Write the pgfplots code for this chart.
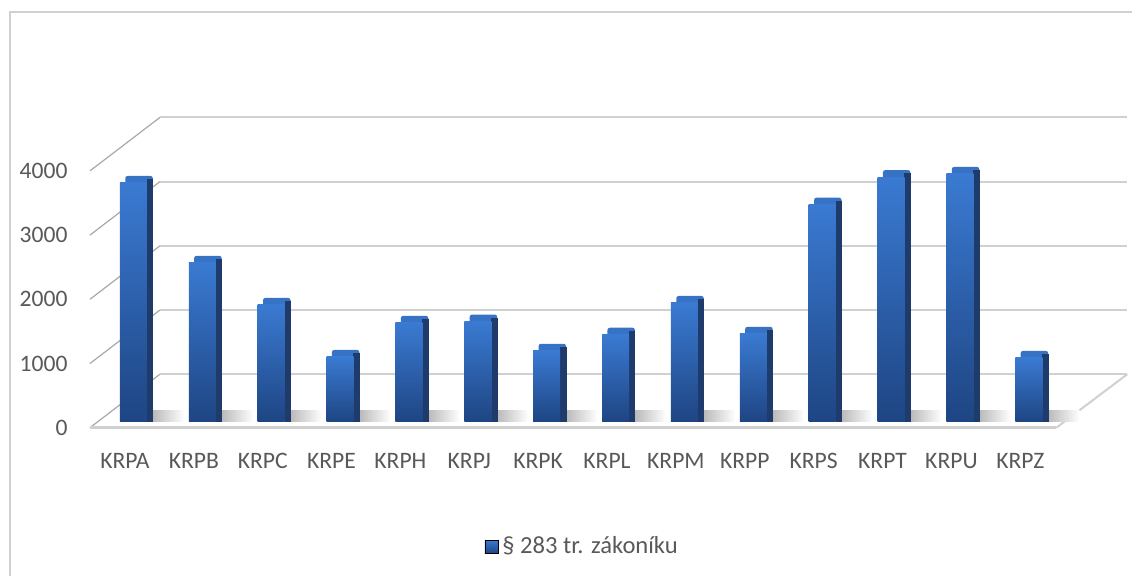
\documentclass[border=0pt]{standalone}
\usepackage{fontspec}
\setmainfont{Carlito}
\usepackage{pgfplots}
\pgfplotsset{compat=1.18}
\usepackage{pgfplotstable}
\definecolor{txt}{HTML}{595959}
\definecolor{gridc}{HTML}{D0D0D0}
\definecolor{wallc}{HTML}{A8A8A8}
\definecolor{barTop}{HTML}{3A7AD2}
\definecolor{barBot}{HTML}{1E4583}
\definecolor{barSide}{HTML}{1E3B6B}
\definecolor{barCap}{HTML}{3773C4}
\pgfplotstableread{
i v
0 3720
1 2475
2 1820
3 1010
4 1540
5 1560
6 1105
7 1355
8 1850
9 1370
10 3380
11 3810
12 3860
13 995
}\data
\begin{document}
\begin{tikzpicture}
\path (0,0) rectangle (566.5pt,288pt);
\draw[color=gridc, line width=0.75pt] (5pt,0) -- (5pt,282pt) -- (566.5pt,282pt);
\begin{axis}[
  at={(45pt,74pt)}, anchor=south west, scale only axis,
  width=519pt, height=155.43pt,
  xmin=-0.508, xmax=14.553, ymin=-93.4, ymax=4745,
  clip=false,
  axis line style={draw=none},
  major tick style={draw=none},
  /pgf/number format/assume math mode=true,
  xtick={0,...,13},
  xticklabels={KRPA,KRPB,KRPC,KRPE,KRPH,KRPJ,KRPK,KRPL,KRPM,KRPP,KRPS,KRPT,KRPU,KRPZ},
  ytick={-93.4,906.6,1906.6,2906.6,3906.6},
  yticklabels={0,1000,2000,3000,4000},
  ticklabel style={font=\fontsize{11.8}{13}\selectfont, text=txt},
  yticklabel style={anchor=east, inner sep=0pt, xshift=-11pt},
  xticklabel style={anchor=north, inner sep=0pt, yshift=-12.5pt},
  legend style={at={(0.4755,-0.3826)}, anchor=center, draw=none, fill=none,
    font=\fontsize{12.3}{13}\selectfont, text=txt, inner sep=0pt},
  legend cell align=left,
]
% back wall grid lines
\addplot[gridc, line width=1pt, forget plot] coordinates {(0.508,739.3) (14.553,739.3)};
\addplot[gridc, line width=1pt, forget plot] coordinates {(0.508,1739.3) (14.553,1739.3)};
\addplot[gridc, line width=1pt, forget plot] coordinates {(0.508,2739.3) (14.553,2739.3)};
\addplot[gridc, line width=1pt, forget plot] coordinates {(0.508,3739.3) (14.553,3739.3)};
\addplot[gridc, line width=1pt, forget plot] coordinates {(0.508,4739.3) (14.553,4739.3)};
% left wall diagonals
\addplot[wallc, line width=0.6pt, forget plot] coordinates {(-0.508,-93.4) (0.508,739.3)};
\addplot[wallc, line width=0.6pt, forget plot] coordinates {(-0.508,906.6) (0.508,1739.3)};
\addplot[wallc, line width=0.6pt, forget plot] coordinates {(-0.508,1906.6) (0.508,2739.3)};
\addplot[wallc, line width=0.6pt, forget plot] coordinates {(-0.508,2906.6) (0.508,3739.3)};
\addplot[wallc, line width=0.6pt, forget plot] coordinates {(-0.508,3906.6) (0.508,4739.3)};
% floor edges
\addplot[gridc, line width=1.3pt, forget plot] coordinates {(-0.508,-93.4) (13.523,-93.4)};
\addplot[gridc, line width=1pt, forget plot] coordinates {(13.523,-93.4) (14.553,739.3)};
\pgfplotsinvokeforeach{0,...,13}{
  % shadow
  \addplot[ybar, bar width=0.46, bar shift=0.63, draw=none, left color=gray!55, right color=white, forget plot,
    x filter/.expression={abs(x-#1)<0.2 ? x : nan}]
    table[x=i, y expr=170]{\data};
  % cap
  \addplot[ybar, bar width=0.40, bar shift=0.205, draw=none, fill=barCap, rounded corners=1.2pt, forget plot,
    x filter/.expression={abs(x-#1)<0.2 ? x : nan}]
    table[x=i, y expr=\thisrow{v}+109]{\data};
  % side
  \addplot[ybar, bar width=0.095, bar shift=0.365, draw=none, fill=barSide, forget plot,
    x filter/.expression={abs(x-#1)<0.2 ? x : nan}]
    table[x=i, y expr=\thisrow{v}+60]{\data};
  % front
  \addplot[ybar, bar width=0.3918, bar shift=0.1233, draw=none, top color=barTop, bottom color=barBot, forget plot,
    x filter/.expression={abs(x-#1)<0.2 ? x : nan}]
    table[x=i, y=v]{\data};
}
\addlegendimage{legend image code/.code={\fill[top color=barTop, bottom color=barBot] (0pt,-3.25pt) rectangle (6.5pt,3.25pt);}}
\addlegendentry{\S\ 283 tr. zákoníku}
\end{axis}
\end{tikzpicture}
\end{document}
